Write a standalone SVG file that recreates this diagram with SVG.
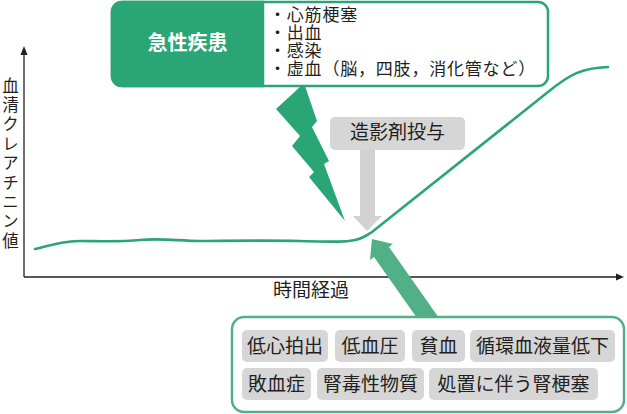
<svg xmlns="http://www.w3.org/2000/svg" width="627" height="414" viewBox="0 0 627 414">
<style>
text{font-family:"Noto Sans CJK JP","Noto Sans CJK SC",sans-serif;fill:#231f20}
.tag{fill:#d6d6d6}
.tt{font-size:19px;text-anchor:middle}
.li{font-size:17px;letter-spacing:0.8px}
.axis{stroke:#231f20;stroke-width:1.3;fill:none}
</style>
<rect width="627" height="414" fill="#ffffff"/>
<g id="axes">
<line class="axis" x1="24" y1="53" x2="24" y2="277"/>
<polygon points="24,46 20.5,55 27.5,55" fill="#231f20"/>
<line class="axis" x1="24" y1="277" x2="619" y2="277"/>
<polygon points="624,277 616,273.5 616,280.5" fill="#231f20"/>
<text x="10.5" y="77" style="writing-mode:vertical-rl;font-size:16.5px;letter-spacing:2.9px">血清クレアチニン値</text>
<text x="311" y="297" style="font-size:19px;text-anchor:middle">時間経過</text>
</g>
<g id="curve">
<path d="M35,249 C55,244 65,241 80,241 S120,242 140,240 S180,241 200,241 S260,240 300,241 S345,242 355,240 C362,239 366,236 372,232 L548,92 C570,74 582,68 608,67" fill="none" stroke="#2aa676" stroke-width="2.6" stroke-linecap="round"/>
</g>
<g id="connectors">
<polygon id="bolt" points="301,86 305,86 317,121 312,127 329,161 324,164 345,221 309,177 314,172 292,146 300,136 276,109" fill="#2aa676"/>
<polygon id="contrast-arrow" points="360,150 375,150 375,216 382,216 367,231 353,216 360,216" fill="#d2d2d2"/>
<polygon id="cause-arrow" points="372,239 393,244 389,247 439,318 417,318 374,257 370,260" fill="#52b088"/>
</g>
<g id="acute">
<rect x="112" y="2" width="436" height="84" rx="10" fill="#ffffff" stroke="#2aa676" stroke-width="2.5"/>
<path d="M122,2 H263 V86 H122 A10,10 0 0 1 112,76 V12 A10,10 0 0 1 122,2 Z" fill="#2aa676" stroke="#2aa676" stroke-width="2.5"/>
<text x="187.5" y="50" style="font-size:20px;font-weight:bold;fill:#ffffff;text-anchor:middle">急性疾患</text>
<text class="li" x="269" y="21">・心筋梗塞</text>
<text class="li" x="269" y="39">・出血</text>
<text class="li" x="269" y="57">・感染</text>
<text class="li" x="269" y="75">・虚血（脳，四肢，消化管など）</text>
</g>
<g id="contrast">
<rect x="330" y="117" width="135" height="33" rx="5" fill="#d6d6d6"/>
<text x="397.5" y="139" style="font-size:19px;text-anchor:middle">造影剤投与</text>
</g>
<g id="causes">
<rect x="232" y="317" width="392" height="95" rx="12" fill="#ffffff" stroke="#52b088" stroke-width="2.5"/>
<g id="tag1"><rect class="tag" x="242" y="330" width="86" height="32" rx="5"/><text class="tt" x="285" y="353">低心拍出</text></g>
<g id="tag2"><rect class="tag" x="335" y="330" width="70" height="32" rx="5"/><text class="tt" x="370" y="353">低血圧</text></g>
<g id="tag3"><rect class="tag" x="412" y="330" width="53" height="32" rx="5"/><text class="tt" x="438.5" y="353">貧血</text></g>
<g id="tag4"><rect class="tag" x="470" y="330" width="145" height="32" rx="5"/><text class="tt" x="542.5" y="353">循環血液量低下</text></g>
<g id="tag5"><rect class="tag" x="242" y="368" width="69" height="32" rx="5"/><text class="tt" x="276.5" y="391">敗血症</text></g>
<g id="tag6"><rect class="tag" x="317" y="368" width="107" height="32" rx="5"/><text class="tt" x="370.5" y="391">腎毒性物質</text></g>
<g id="tag7"><rect class="tag" x="429" y="368" width="169" height="32" rx="5"/><text class="tt" x="513.5" y="391">処置に伴う腎梗塞</text></g>
</g>
</svg>
